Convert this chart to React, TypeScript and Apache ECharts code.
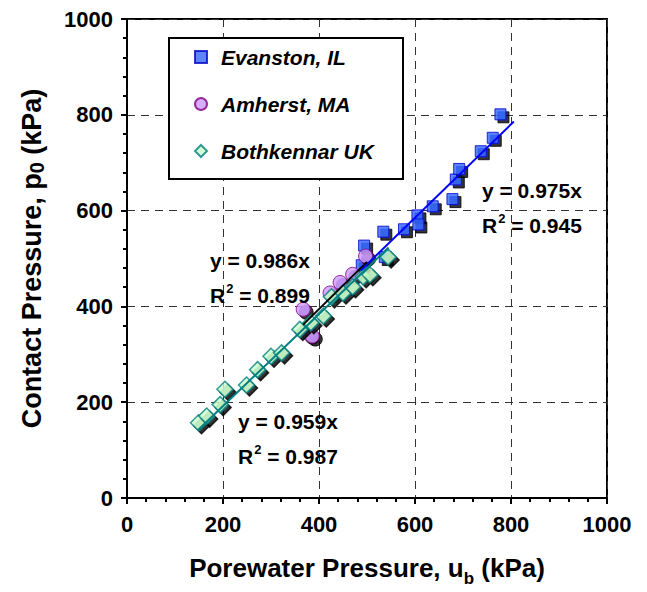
import React, { useEffect, useRef } from "react";
import * as echarts from "echarts";

const FONT = "Arial, 'Liberation Sans', sans-serif";

const xTicks = [0, 200, 400, 600, 800, 1000];
const yTicks = [0, 200, 400, 600, 800, 1000];

const seriesNames = ["Evanston, IL", "Amherst, MA", "Bothkennar UK"];

const evanston: [number, number][] = [
  [489, 486], [494, 527], [537, 503], [534, 556], [577, 561], [605, 590], [607, 571],
  [637, 609], [678, 624], [685, 665], [692, 687], [737, 724], [762, 752], [778, 801],
];
const amherst: [number, number][] = [
  [367, 394], [380, 342], [386, 338], [423, 428], [444, 450], [470, 467], [497, 505],
];
const bothkennar: [number, number][] = [
  [149, 157], [166, 171], [194, 195], [204, 227], [249, 236], [272, 268], [300, 296],
  [322, 303], [360, 352], [383, 366], [409, 380], [426, 420], [450, 428], [470, 441],
  [492, 462], [506, 466], [544, 503],
];

const trendEvanston: [number, number][] = [[487, 475], [806, 786]];
const trendAmherst: [number, number][] = [[367, 362], [500, 493]];
const trendBothkennar: [number, number][] = [[148, 142], [545, 523]];

const fits = [
  { eq: "y = 0.975x", r2: "0.945", x: 474, y: 184 },
  { eq: "y = 0.986x", r2: "0.899", x: 202, y: 254 },
  { eq: "y = 0.959x", r2: "0.987", x: 230, y: 415 },
];

export default function App() {
  const ref = useRef<HTMLDivElement>(null);
  useEffect(() => {
    const chart = echarts.init(ref.current!, undefined, { renderer: "svg" });
    const shadow = { shadowColor: "#000", shadowOffsetX: 3, shadowOffsetY: 3, shadowBlur: 0 };
    const axisCommon = {
      min: 0,
      max: 1000,
      interval: 200,
      axisLine: { show: true, onZero: false, lineStyle: { color: "#000", width: 2 } },
      axisTick: { show: true, inside: false, length: 6, lineStyle: { color: "#000", width: 2 } },
      minorTick: { show: true, splitNumber: 5, length: 4, lineStyle: { color: "#000", width: 2 } },
      splitLine: { show: true, lineStyle: { color: "#333", width: 1, type: [8, 6] } },
      nameLocation: "middle" as const,
    };
    const texts: any[] = [];
    fits.forEach((f) => {
      texts.push({
        type: "text",
        left: f.x,
        top: f.y - 12,
        style: { text: f.eq, font: `bold 21px ${FONT}`, fill: "#000" },
        z: 100,
      });
      texts.push({
        type: "text",
        left: f.x,
        top: f.y + 20,
        style: {
          text: `{a|R}{s|2}{a| = ${f.r2}}`,
          fill: "#000",
          rich: {
            a: { fontFamily: FONT, fontWeight: "bold", fontSize: 21, lineHeight: 24, verticalAlign: "bottom" },
            s: { fontFamily: FONT, fontWeight: "bold", fontSize: 13, lineHeight: 24, verticalAlign: "top", padding: [0, 0, 10, 1] },
          },
        },
        z: 100,
      });
    });
    chart.setOption({
      animation: false,
      backgroundColor: "#fff",
      grid: { left: 119, right: 40, top: 5, bottom: 92, show: true, borderColor: "#000", borderWidth: 2, backgroundColor: "transparent" },
      xAxis: {
        type: "value",
        ...axisCommon,
        axisLabel: { fontFamily: FONT, fontWeight: "bold", fontSize: 22, color: "#000", margin: 15, formatter: (v: number) => (xTicks.includes(v) ? String(v) : "") },
        name: "{t|Porewater Pressure, u}{s|b}{t| (kPa)}",
        nameGap: 55,
        nameTextStyle: {
          rich: {
            t: { fontFamily: FONT, fontWeight: "bold", fontSize: 26, color: "#000", lineHeight: 30 },
            s: { fontFamily: FONT, fontWeight: "bold", fontSize: 17, color: "#000", lineHeight: 30, verticalAlign: "bottom", padding: [0, 0, -4, 0] },
          },
        },
      },
      yAxis: {
        type: "value",
        ...axisCommon,
        axisLabel: { fontFamily: FONT, fontWeight: "bold", fontSize: 22, color: "#000", margin: 14, formatter: (v: number) => (yTicks.includes(v) ? String(v) : "") },
        name: "{t|Contact Pressure, p}{s|0}{t| (kPa)}",
        nameGap: 80,
        nameTextStyle: {
          rich: {
            t: { fontFamily: FONT, fontWeight: "bold", fontSize: 27, color: "#000", lineHeight: 30 },
            s: { fontFamily: FONT, fontWeight: "bold", fontSize: 20, color: "#000", lineHeight: 30, verticalAlign: "bottom" },
          },
        },
      },
      legend: {
        orient: "vertical",
        left: 181,
        top: 32,
        z: 20,
        itemWidth: 12,
        itemHeight: 12,
        itemGap: 23,
        data: seriesNames,
        textStyle: { fontFamily: FONT, fontWeight: "bold", fontStyle: "italic", fontSize: 21, color: "#000", lineHeight: 24, padding: [0, 0, 0, 9] },
        itemStyle: { shadowColor: "transparent", shadowOffsetX: 0, shadowOffsetY: 0 },
      },
      graphic: [
        { type: "rect", left: 160, top: 29, z: 1, shape: { width: 234, height: 141 }, style: { fill: "#fff", stroke: "#000", lineWidth: 2 } },
        ...texts,
      ],
      series: [
        {
          name: seriesNames[0], type: "scatter", data: evanston, symbol: "rect", symbolSize: 11, z: 3,
          itemStyle: { color: "#3366ff", borderColor: "#0000cc", borderWidth: 1, ...shadow },
        },
        {
          name: seriesNames[1], type: "scatter", data: amherst, symbol: "circle", symbolSize: 14, z: 3,
          itemStyle: { color: "#cc99ff", borderColor: "#800080", borderWidth: 1, ...shadow },
        },
        {
          name: seriesNames[2], type: "scatter", data: bothkennar, symbol: "diamond", symbolSize: 16, z: 3,
          itemStyle: { color: "#ccffcc", borderColor: "#008080", borderWidth: 1.5, ...shadow },
        },
        { type: "line", data: trendEvanston, symbol: "none", z: 4, lineStyle: { color: "#0000ff", width: 2 } },
        { type: "line", data: trendAmherst, symbol: "none", z: 4, lineStyle: { color: "#000", width: 2 } },
        { type: "line", data: trendBothkennar, symbol: "none", z: 4, lineStyle: { color: "#008080", width: 2 } },
      ],
    });
    return () => chart.dispose();
  }, []);
  return <div ref={ref} style={{ width: 639, height: 584 }} />;
}
